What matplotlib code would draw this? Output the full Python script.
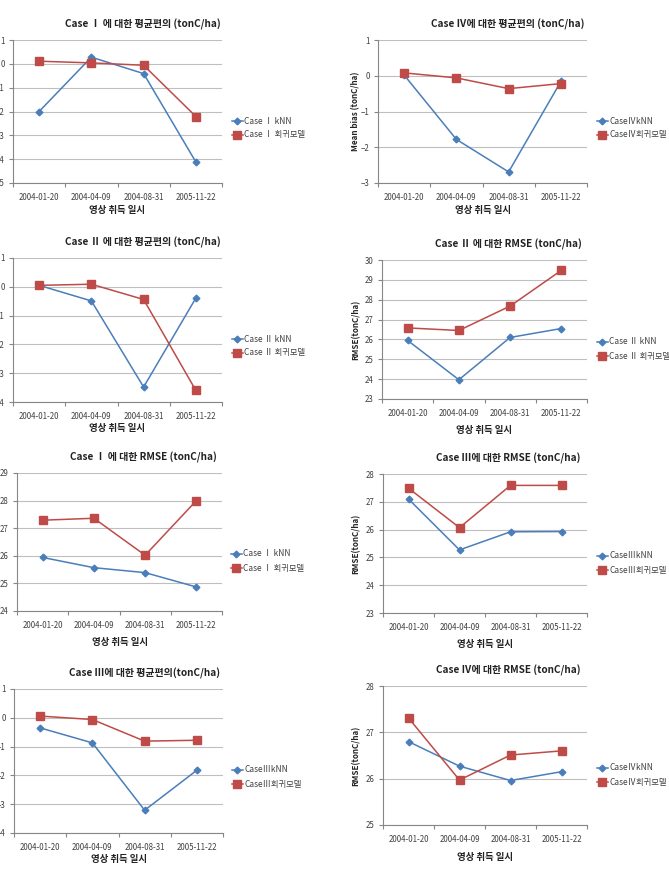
import matplotlib
matplotlib.use("Agg")
import matplotlib.pyplot as plt
from matplotlib.ticker import MultipleLocator, FixedLocator

plt.rcParams['font.family'] = ['Noto Sans CJK KR', 'DejaVu Sans']

dates = ["2004-01-20", "2004-04-09", "2004-08-31", "2005-11-22"]

c1_knn = [-2.00, 0.28, -0.41, -4.12]
c1_reg = [0.11, 0.04, -0.06, -2.21]
c4_bias_knn = [0.02, -1.78, -2.69, -0.16]
c4_bias_reg = [0.08, -0.06, -0.36, -0.22]
c2_bias_knn = [0.05, -0.49, -3.48, -0.39]
c2_bias_reg = [0.05, 0.09, -0.44, -3.60]
c2_rmse_knn = [25.95, 23.97, 26.10, 26.55]
c2_rmse_reg = [26.58, 26.45, 27.68, 29.48]
c1_rmse_knn = [25.94, 25.57, 25.39, 24.87]
c1_rmse_reg = [27.29, 27.36, 26.02, 28.00]
c3_rmse_knn = [27.10, 25.27, 25.92, 25.93]
c3_rmse_reg = [27.49, 26.07, 27.59, 27.59]
c3_bias_knn = [-0.35, -0.87, -3.21, -1.82]
c3_bias_reg = [0.06, -0.06, -0.81, -0.78]
c4_rmse_knn = [26.80, 26.27, 25.96, 26.15]
c4_rmse_reg = [27.31, 25.97, 26.51, 26.60]

W, H = 669, 877
BLUE = '#4A7EBB'
RED = '#BE4B48'
GRID = '#BFBFBF'
AX = '#868686'
TXT = '#404040'

fig = plt.figure(figsize=(W / 100, H / 100), dpi=100)


def chart(box, ylim, knn, reg, title, tpos, leg_labels, lpos, xl_y, ylabel=None):
    l, t, r, b = box
    ax = fig.add_axes([l / W, 1 - b / H, (r - l) / W, (b - t) / H])
    x = list(range(len(dates)))
    ax.plot(x, knn, color=BLUE, marker='D', markersize=3.4, linewidth=1.1,
            label=leg_labels[0], zorder=3)
    ax.plot(x, reg, color=RED, marker='s', markersize=5.4, linewidth=1.1,
            label=leg_labels[1], zorder=3)
    ax.set_xlim(-0.5, len(dates) - 0.5)
    ax.set_ylim(*ylim)
    ax.yaxis.set_major_locator(MultipleLocator(1))
    ax.grid(axis='y', color=GRID, linewidth=0.8)
    ax.set_axisbelow(True)
    for s in ('top', 'right'):
        ax.spines[s].set_visible(False)
    for s in ('left', 'bottom'):
        ax.spines[s].set_color(AX)
        ax.spines[s].set_linewidth(0.8)
    ax.set_xticks(x)
    ax.set_xticklabels(dates)
    ax.xaxis.set_minor_locator(FixedLocator([i - 0.5 for i in range(len(dates) + 1)]))
    ax.tick_params(axis='x', which='major', length=0, pad=7, labelsize=5.7, labelcolor=TXT)
    ax.tick_params(axis='x', which='minor', length=3, color=AX, width=0.8)
    ax.tick_params(axis='y', which='major', length=3, color=AX, width=0.8,
                   labelsize=5.7, labelcolor=TXT, pad=3)
    fig.text(tpos[0] / W, 1 - tpos[1] / H, title, ha='center', va='center',
             fontsize=7.2, fontweight='bold', color='#222222')
    fig.text(((l + r) / 2) / W, 1 - xl_y / H, "영상 취득 일시", ha='center', va='center',
             fontsize=6.8, fontweight='bold', color='#222222')
    if ylabel:
        fig.text(356 / W, 1 - ((t + b) / 2) / H, ylabel, rotation=90, ha='center',
                 va='center', fontsize=5.8, fontweight='bold', color='#222222')
    ax.legend(loc='center left', bbox_to_anchor=(lpos[0] / W, 1 - lpos[1] / H),
              bbox_transform=fig.transFigure, frameon=False, fontsize=6.0,
              handlelength=1.3, handletextpad=0.15, labelspacing=0.6,
              borderpad=0, borderaxespad=0, labelcolor=TXT)
    return ax


chart((13, 40, 222, 183), (-5, 1), c1_knn, c1_reg,
      "Case Ⅰ 에 대한 평균편의 (tonC/ha)", (143, 24),
      ["Case Ⅰ kNN", "Case Ⅰ 회귀모델"], (232, 128), 210)
chart((378, 40, 587, 183), (-3, 1), c4_bias_knn, c4_bias_reg,
      "Case Ⅳ에 대한 평균편의 (tonC/ha)", (508, 24),
      ["CaseⅣkNN", "CaseⅣ회귀모델"], (597, 128), 210, "Mean bias (tonC/ha)")
chart((13, 258, 222, 402), (-4, 1), c2_bias_knn, c2_bias_reg,
      "Case Ⅱ 에 대한 평균편의 (tonC/ha)", (143, 242),
      ["Case Ⅱ kNN", "Case Ⅱ 회귀모델"], (232, 346), 428)
chart((382, 260, 587, 399), (23, 30), c2_rmse_knn, c2_rmse_reg,
      "Case Ⅱ 에 대한 RMSE (tonC/ha)", (508, 244),
      ["Case Ⅱ kNN", "Case Ⅱ 회귀모델"], (597, 349), 430, "RMSE(tonC/ha)")
chart((17, 473, 222, 611), (24, 29), c1_rmse_knn, c1_rmse_reg,
      "Case Ⅰ 에 대한 RMSE (tonC/ha)", (143, 457),
      ["Case Ⅰ kNN", "Case Ⅰ 회귀모델"], (231, 561), 642)
chart((383, 474, 587, 613), (23, 28), c3_rmse_knn, c3_rmse_reg,
      "Case Ⅲ에 대한 RMSE (tonC/ha)", (508, 458),
      ["CaseⅢkNN", "CaseⅢ회귀모델"], (597, 563), 644, "RMSE(tonC/ha)")
chart((14, 689, 223, 833), (-4, 1), c3_bias_knn, c3_bias_reg,
      "Case Ⅲ에 대한 평균편의(tonC/ha)", (145, 673),
      ["CaseⅢkNN", "CaseⅢ회귀모델"], (232, 777), 859)
chart((383, 686, 587, 825), (25, 28), c4_rmse_knn, c4_rmse_reg,
      "Case Ⅳ에 대한 RMSE (tonC/ha)", (508, 670),
      ["CaseⅣkNN", "CaseⅣ회귀모델"], (597, 775), 857, "RMSE(tonC/ha)")

fig.savefig("out.png", dpi=100, facecolor='white')
